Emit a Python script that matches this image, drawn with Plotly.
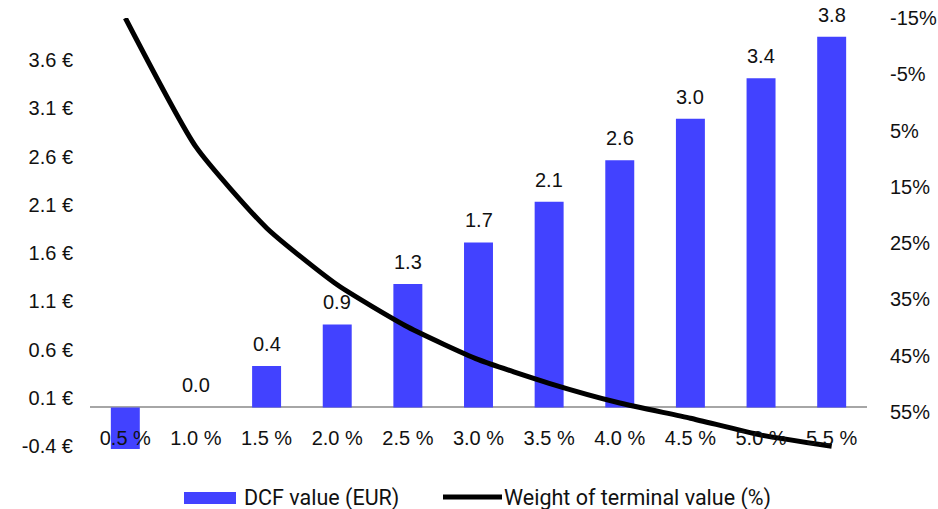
import plotly.graph_objects as go

# Terminal growth rate scenarios
growth = ["0.5 %", "1.0 %", "1.5 %", "2.0 %", "2.5 %", "3.0 %",
          "3.5 %", "4.0 %", "4.5 %", "5.0 %", "5.5 %"]
# DCF value per share (EUR)
dcf_value = [-0.43, 0.00, 0.43, 0.86, 1.28, 1.71, 2.13, 2.56, 2.99, 3.41, 3.84]
# Weight of terminal value in total value (%)
tv_weight = [-15.0, 7.9, 22.3, 32.4, 39.9, 45.7, 49.9, 53.4, 56.1, 59.1, 61.1]

eur_ticks = [-0.4, 0.1, 0.6, 1.1, 1.6, 2.1, 2.6, 3.1, 3.6]
eur_labels = [f"{v:.1f} €" for v in eur_ticks]
pct_ticks = [-15, -5, 5, 15, 25, 35, 45, 55]
pct_labels = [f"{v}%" for v in pct_ticks]

BLUE = "#4242FF"
FONT = "Liberation Sans, Arial, sans-serif"
LEG_FONT = "Roboto, Arial, sans-serif"
TXT = "#111111"

W, H = 938, 509
ML, MR, MT, MB = 90, 71, 18, 59
PW, PH = W - ML - MR, H - MT - MB


def px_x(px):
    return (px - ML) / PW


def px_y(py):
    return (H - MB - py) / PH


fig = go.Figure()

fig.add_trace(go.Bar(
    x=growth, y=dcf_value, name="DCF value (EUR)",
    marker=dict(color=BLUE, line=dict(width=0)),
    width=0.41, showlegend=False, yaxis="y",
))

fig.add_trace(go.Scatter(
    x=growth, y=tv_weight, name="Weight of terminal value (%)",
    mode="lines", line=dict(color="black", width=5, shape="spline", smoothing=0.55),
    showlegend=False, yaxis="y2",
))

annotations = []
for g, v in zip(growth, dcf_value):
    if v >= 0:
        annotations.append(dict(
            x=g, y=v, xref="x", yref="y", text=f"{v:.1f}",
            showarrow=False, yshift=22, font=dict(family=FONT, size=20, color=TXT),
        ))

# Legend drawn below the plot
shapes = [
    dict(type="rect", xref="paper", yref="paper",
         x0=px_x(184), x1=px_x(236), y0=px_y(504), y1=px_y(492),
         fillcolor=BLUE, line=dict(width=0)),
    dict(type="line", xref="paper", yref="paper",
         x0=px_x(443), x1=px_x(502), y0=px_y(497), y1=px_y(497),
         line=dict(color="black", width=5)),
]
annotations += [
    dict(xref="paper", yref="paper", x=px_x(242), y=px_y(498),
         xanchor="left", yanchor="middle", showarrow=False,
         text="DCF value (EUR)", font=dict(family=LEG_FONT, size=21.5, color=TXT)),
    dict(xref="paper", yref="paper", x=px_x(502), y=px_y(498),
         xanchor="left", yanchor="middle", showarrow=False,
         text="Weight of terminal value (%)", font=dict(family=LEG_FONT, size=21.5, color=TXT)),
]

tick_font = dict(family=FONT, size=20, color=TXT)

fig.update_layout(
    width=W, height=H,
    margin=dict(l=ML, r=MR, t=MT, b=MB, pad=0, autoexpand=False),
    paper_bgcolor="white", plot_bgcolor="white",
    font=dict(family=FONT, size=20, color=TXT),
    xaxis=dict(
        type="category", range=[-0.5, 10.5],
        anchor="free", position=0.06, automargin=False,
        showgrid=False, showline=False, zeroline=False, ticks="",
        tickfont=tick_font,
    ),
    yaxis=dict(
        range=[-0.441, 4.035], tickvals=eur_ticks, ticktext=eur_labels,
        showgrid=False, showline=False, ticks="", automargin=False,
        zeroline=True, zerolinecolor="#A6A6A6", zerolinewidth=2,
        ticklabelstandoff=16,
        tickfont=tick_font,
    ),
    yaxis2=dict(
        overlaying="y", side="right", automargin=False,
        range=[61.75, -15], tickvals=pct_ticks, ticktext=pct_labels,
        showgrid=False, showline=False, zeroline=False, ticks="",
        ticklabelstandoff=22,
        tickfont=tick_font,
    ),
    shapes=shapes,
    annotations=annotations,
)

fig.write_html("out.html")
